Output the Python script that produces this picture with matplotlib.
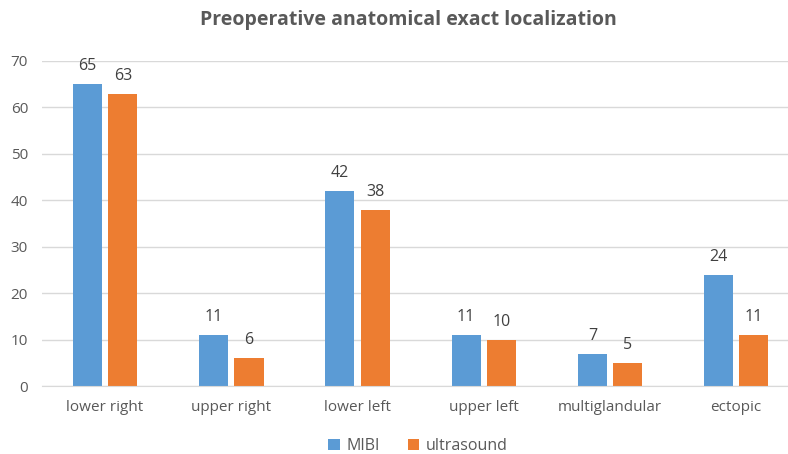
import matplotlib
matplotlib.use("Agg")
import matplotlib.pyplot as plt
import numpy as np

categories = ["lower right", "upper right", "lower left", "upper left", "multiglandular", "ectopic"]
mibi = [65, 11, 42, 11, 7, 24]
ultrasound = [63, 6, 38, 10, 5, 11]
yticks = [0, 10, 20, 30, 40, 50, 60, 70]

plt.rcParams['font.family'] = ['Open Sans', 'DejaVu Sans']
fig = plt.figure(figsize=(7.88, 4.54), dpi=100)
W, H = 788, 454
ax = fig.add_axes([42 / W, 1 - 386 / H, (788 - 42) / W, (386 - 61) / H])

x = np.arange(len(categories))
bw = 0.23
off = 0.14
c1, c2 = "#5B9BD5", "#ED7D31"
b1 = ax.bar(x - off, mibi, bw, color=c1, label="MIBI", zorder=3)
b2 = ax.bar(x + off, ultrasound, bw, color=c2, label="ultrasound", zorder=3)
tc = "#404040"
for bars in (b1, b2):
    ax.bar_label(bars, padding=7, fontsize=11.5, color=tc)

ax.set_xlim(-0.5, 5.41)
ax.set_ylim(0, 70)
ax.set_yticks(yticks)
ax.set_xticks(x)
ax.set_xticklabels(categories)
ax.tick_params(axis='both', length=0, labelsize=11, labelcolor="#595959")
ax.tick_params(axis='x', pad=10)
ax.tick_params(axis='y', pad=10)
ax.grid(axis='y', color="#D9D9D9", linewidth=1, zorder=0)
for s in ["top", "right", "left"]:
    ax.spines[s].set_visible(False)
ax.spines["bottom"].set_color("#D9D9D9")
ax.spines["bottom"].set_zorder(4)

fig.text(408 / W, 1 - 20 / H, "Preoperative anatomical exact localization", ha="center", va="center",
         fontsize=14, fontweight="bold", color="#595959")
fig.legend(handles=[b1, b2], loc="center", bbox_to_anchor=(418 / W, 1 - 446 / H), ncol=2, frameon=False,
           fontsize=11.5, handlelength=0.7, handleheight=0.7, handletextpad=0.4, columnspacing=1.8,
           labelcolor="#595959")
fig.savefig("out.png", dpi=100)
